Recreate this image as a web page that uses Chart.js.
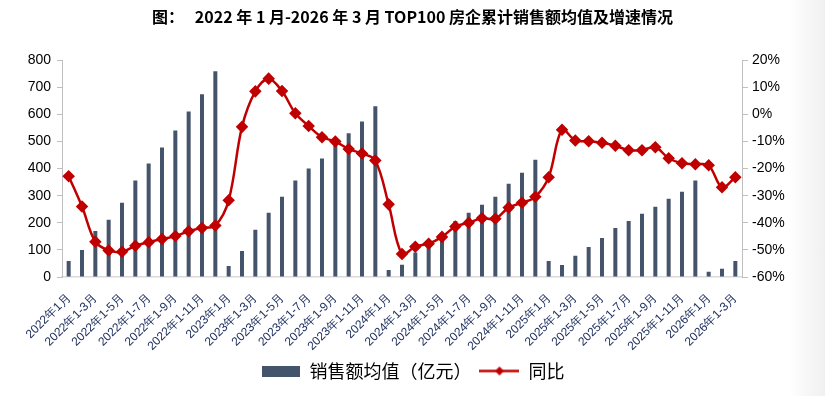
<!DOCTYPE html>
<html>
<head>
<meta charset="utf-8">
<script src="https://cdn.jsdelivr.net/npm/chart.js@4.4.1/dist/chart.umd.min.js"></script>
<style>
  body { margin: 0; }
  #myChart { display: block; background: linear-gradient(to right, #fff 0, #fff 788px, #f0f0f0 825px); }
</style>
</head>
<body>
<canvas id="myChart" width="825" height="396"></canvas>
<script>
// Данные
let months = [
  '2022年1月', '2022年1-2月', '2022年1-3月', '2022年1-4月', '2022年1-5月', '2022年1-6月',
  '2022年1-7月', '2022年1-8月', '2022年1-9月', '2022年1-10月', '2022年1-11月', '2022年1-12月',
  '2023年1月', '2023年1-2月', '2023年1-3月', '2023年1-4月', '2023年1-5月', '2023年1-6月',
  '2023年1-7月', '2023年1-8月', '2023年1-9月', '2023年1-10月', '2023年1-11月', '2023年1-12月',
  '2024年1月', '2024年1-2月', '2024年1-3月', '2024年1-4月', '2024年1-5月', '2024年1-6月',
  '2024年1-7月', '2024年1-8月', '2024年1-9月', '2024年1-10月', '2024年1-11月', '2024年1-12月',
  '2025年1月', '2025年1-2月', '2025年1-3月', '2025年1-4月', '2025年1-5月', '2025年1-6月',
  '2025年1-7月', '2025年1-8月', '2025年1-9月', '2025年1-10月', '2025年1-11月', '2025年1-12月',
  '2026年1月', '2026年1-2月', '2026年1-3月'
];
let salesAvg = [
  59, 100, 170, 211, 274, 356, 419, 478, 541, 611, 674, 759,
  41, 96, 174, 237, 296, 356, 400, 437, 485, 530, 574, 630,
  26, 45, 90, 122, 150, 207, 237, 267, 296, 344, 385, 433,
  59, 44, 78, 111, 144, 181, 207, 233, 259, 289, 315, 356,
  19, 30, 59
];
let yoy = [
  -22.8, -34, -47, -50.2, -50.7, -48.5, -47.2, -46, -44.9, -43.1, -41.9, -41,
  -31.7, -4.6, 8.5, 13.2, 8.6, 0.4, -4.3, -8.4, -10, -12.8, -14.4, -17,
  -33.2, -51.5, -48.8, -47.7, -45.2, -41.4, -40, -38.3, -38.5, -34.4, -32.6, -30.4,
  -23.2, -5.7, -9.6, -9.9, -10.5, -11.6, -13.2, -13.2, -12.1, -16.2, -18, -18.4,
  -18.8, -26.9, -23.2
];
let leftTicks = [0, 800, 100];
let rightTicks = [-60, 20, 10];

let barColor = '#44546A';
let lineColor = '#C00000';
let axisColor = '#BFBFBF';

// Значки для легенды
let makeBarIcon = () => {
  let c = document.createElement('canvas');
  c.width = 38; c.height = 11;
  let g = c.getContext('2d');
  g.fillStyle = barColor;
  g.fillRect(0, 0, 38, 11);
  return c;
};
let makeLineIcon = () => {
  let c = document.createElement('canvas');
  c.width = 40; c.height = 11;
  let g = c.getContext('2d');
  g.strokeStyle = lineColor;
  g.lineWidth = 2.5;
  g.beginPath(); g.moveTo(0, 5.5); g.lineTo(40, 5.5); g.stroke();
  g.fillStyle = lineColor;
  g.beginPath(); g.moveTo(20, 1); g.lineTo(24.5, 5.5); g.lineTo(20, 10); g.lineTo(15.5, 5.5); g.closePath(); g.fill();
  return c;
};
let icons = [makeBarIcon(), makeLineIcon()];

let ctx = document.querySelector('#myChart').getContext('2d');

let chart = new Chart(ctx, {
  data: {
    labels: months,
    datasets: [
      {
        type: 'line',
        label: '同比',
        data: yoy,
        yAxisID: 'y1',
        borderColor: lineColor,
        backgroundColor: lineColor,
        borderWidth: 2.5,
        tension: 0.35,
        pointStyle: 'rectRot',
        pointRadius: 4.5,
        pointBackgroundColor: lineColor,
        pointBorderColor: lineColor,
        order: 1
      },
      {
        type: 'bar',
        label: '销售额均值（亿元）',
        data: salesAvg,
        yAxisID: 'y',
        backgroundColor: barColor,
        barPercentage: 0.3,
        categoryPercentage: 1,
        order: 2
      }
    ]
  },
  options: {
    responsive: false,
    devicePixelRatio: 1,
    animation: false,
    layout: { padding: { left: 0, right: 0, top: 0, bottom: 6 } },
    scales: {
      x: {
        grid: { display: false },
        border: { color: '#D9D9D9', width: 1.5 },
        ticks: {
          autoSkip: false,
          maxRotation: 45,
          minRotation: 45,
          padding: 6,
          color: '#1F3060',
          font: { family: 'Liberation Sans', size: 12 },
          callback: function (v, i) { return i % 2 === 0 ? months[i] : ''; }
        },
        afterFit: (s) => { s.height = 77; }
      },
      y: {
        position: 'left',
        min: leftTicks[0],
        max: leftTicks[1],
        ticks: {
          stepSize: leftTicks[2],
          color: '#000',
          padding: 6,
          font: { family: 'Liberation Sans', size: 14 }
        },
        grid: { drawOnChartArea: false, drawTicks: true, tickLength: 5, color: axisColor },
        border: { color: axisColor },
        afterFit: (s) => { s.width = 62; }
      },
      y1: {
        position: 'right',
        min: rightTicks[0],
        max: rightTicks[1],
        ticks: {
          stepSize: rightTicks[2],
          color: '#000',
          padding: 4,
          font: { family: 'Liberation Sans', size: 14 },
          callback: (v) => v + '%'
        },
        grid: { drawOnChartArea: false, drawTicks: true, tickLength: 6, color: axisColor },
        border: { color: axisColor },
        afterFit: (s) => { s.width = 83; }
      }
    },
    plugins: {
      title: {
        display: true,
        text: '图：   2022 年 1 月-2026 年 3 月 TOP100 房企累计销售额均值及增速情况',
        color: '#000',
        font: { family: 'Noto Sans CJK SC', size: 16, weight: 'bold' },
        padding: { top: 7, bottom: 34 }
      },
      legend: {
        position: 'bottom',
        labels: {
          usePointStyle: true,
          pointStyleWidth: 40,
          boxHeight: 11,
          padding: 8,
          color: '#000',
          font: { family: 'Noto Sans CJK SC', size: 18 },
          generateLabels: (c) => {
            let items = Chart.defaults.plugins.legend.labels.generateLabels(c);
            items.forEach((it) => {
              it.pointStyle = icons[it.datasetIndex === 1 ? 0 : 1];
            });
            return items.reverse();
          }
        }
      },
      tooltip: { enabled: false }
    }
  }
});
</script>
</body>
</html>
